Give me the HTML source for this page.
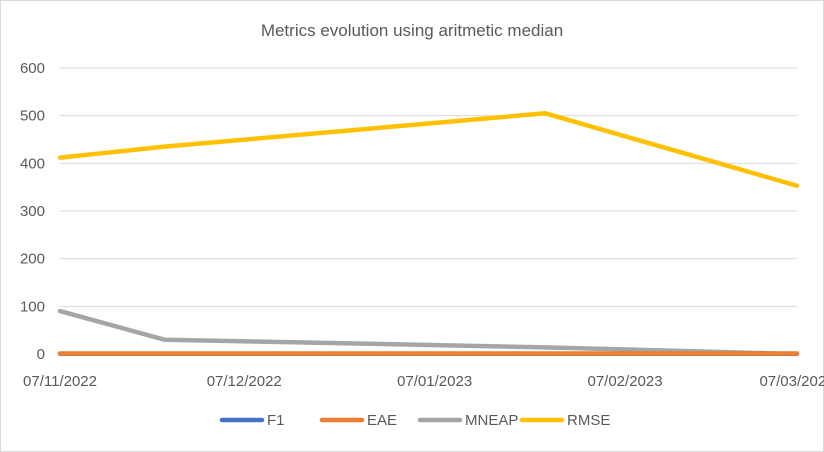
<!DOCTYPE html>
<html><head><meta charset="utf-8"><style>
body{margin:0;background:#fff}
svg{display:block;font-family:"Liberation Sans",sans-serif}
</style></head><body>
<svg id="chart" width="824" height="452">
<rect x="0.5" y="0.5" width="823" height="451" fill="#fff" stroke="#d9d9d9"/>
<text x="412" y="36" text-anchor="middle" font-size="17" fill="#595959">Metrics evolution using aritmetic median</text>
<g id="grid"></g><g id="xlab"></g><g id="series"></g><g id="legend"></g>
</svg>
<script>
const dayOffsets=[0,17,79,120];
const seriesNames=["F1","EAE","MNEAP","RMSE"];
const f1Values=[0.5,0.5,0.5,0.5];
const eaeValues=[1,1,1,1];
const mneapValues=[90,30,14,0];
const rmseValues=[412,435,505,353];
const yTicks=[0,100,200,300,400,500,600];
const xTickDays=[0,30,61,92,120];
const xTickLabels=["07/11/2022","07/12/2022","07/01/2023","07/02/2023","07/03/2023"];
const colors=["#4472c4","#ed7d31","#a5a5a5","#ffc000"];
const NS="http://www.w3.org/2000/svg";
const x0=60,x1=797,y0=354,y1=68;
const xs=d=>x0+d/120*(x1-x0);
const ys=v=>y0-v/600*(y0-y1);
function mk(t,a,p){const e=document.createElementNS(NS,t);for(const k in a)e.setAttribute(k,a[k]);p.appendChild(e);return e;}
const grid=document.getElementById('grid');
yTicks.forEach(v=>{
 const l=mk('line',{x1:x0,x2:x1,y1:ys(v),y2:ys(v),stroke:v===0?'#bfbfbf':'#d9d9d9'},grid);
 
 
 const t=mk('text',{x:45,y:ys(v)+5,'text-anchor':'end','font-size':15,fill:'#595959'},grid);
 t.textContent=v;
 
 
});
const xl=document.getElementById('xlab');
xTickDays.forEach((d,i)=>{
 const t=mk('text',{x:xs(d),y:386,'text-anchor':'middle','font-size':15,fill:'#595959'},xl);
 t.textContent=xTickLabels[i];
 
 
});
const all=[f1Values,eaeValues,mneapValues,rmseValues];
const sg=document.getElementById('series');
[3,2,0,1].forEach(i=>{
 const p=mk('polyline',{points:all[i].map((v,j)=>xs(dayOffsets[j])+','+ys(v)).join(' '),fill:'none',stroke:colors[i],'stroke-width':4.5,'stroke-linejoin':'round','stroke-linecap':'round'},sg);
 
 
});
const lg=document.getElementById('legend');
const lx=[222,322,420,522];
seriesNames.forEach((n,i)=>{
 const g=mk('g',{},lg);
 
 
 mk('line',{x1:lx[i],x2:lx[i]+40,y1:420,y2:420,stroke:colors[i],'stroke-width':4.5,'stroke-linecap':'round'},g);
 const t=mk('text',{x:lx[i]+45,y:425,'font-size':15,fill:'#595959'},g);
 t.textContent=n;
});
</script>
</body></html>
